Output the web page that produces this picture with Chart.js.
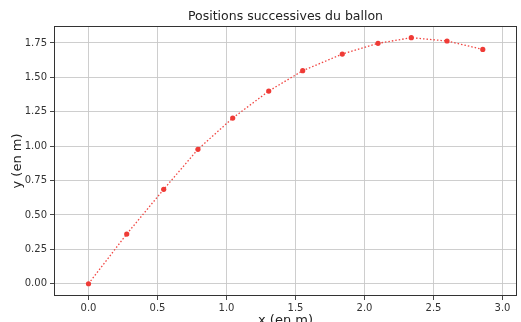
<!DOCTYPE html>
<html>
<head>
<meta charset="utf-8">
<script src="https://cdn.jsdelivr.net/npm/chart.js@4/dist/chart.umd.min.js"></script>
<style>
  html, body { margin: 0; padding: 0; background: #fff; overflow: hidden; }
  #wrap { width: 521px; height: 322px; }
</style>
</head>
<body>
<div id="wrap"><canvas id="ballChart" width="521" height="322"></canvas></div>
<script>
// positions
const xPos = [0.0, 0.277, 0.545, 0.793, 1.045, 1.306, 1.552, 1.839, 2.098, 2.339, 2.598, 2.857];
const yPos = [0.0, 0.361, 0.686, 0.977, 1.204, 1.400, 1.548, 1.669, 1.747, 1.788, 1.764, 1.703];
const xTicks = [0.0, 0.5, 1.0, 1.5, 2.0, 2.5, 3.0];
const yTicks = [0.0, 0.25, 0.5, 0.75, 1.0, 1.25, 1.5, 1.75];

const FONT = "'DejaVu Sans', sans-serif";

// frame + title + axis labels, matplotlib style
const decor = {
  id: 'decor',
  afterDraw(chart) {
    const { ctx, chartArea: a } = chart;
    ctx.save();
    ctx.strokeStyle = '#333';
    ctx.lineWidth = 1;
    ctx.strokeRect(a.left + 0.5, a.top + 0.5, a.right - a.left - 1, a.bottom - a.top - 1);

    ctx.fillStyle = '#222';
    ctx.textAlign = 'center';
    ctx.textBaseline = 'middle';
    ctx.font = '12.5px ' + FONT;
    ctx.fillText('Positions successives du ballon', (a.left + a.right) / 2, 17);

    ctx.font = '13px ' + FONT;
    ctx.fillText('x (en m)', (a.left + a.right) / 2, 320.5);

    ctx.translate(18, (a.top + a.bottom) / 2);
    ctx.rotate(-Math.PI / 2);
    ctx.fillText('y (en m)', 0, 0);
    ctx.restore();
  }
};

const ctx = document.getElementById('ballChart').getContext('2d');
new Chart(ctx, {
  type: 'scatter',
  data: {
    datasets: [{
      data: xPos.map((x, i) => ({ x: x, y: yPos[i] })),
      showLine: true,
      borderColor: 'rgba(240,50,45,0.9)',
      borderWidth: 1.3,
      borderDash: [1.5, 2],
      backgroundColor: '#ef3b36',
      pointBorderWidth: 0,
      pointRadius: 2.6
    }]
  },
  options: {
    responsive: false,
    animation: false,
    layout: { padding: { top: 26, right: 4, left: 0, bottom: 0 } },
    plugins: {
      legend: { display: false },
      tooltip: { enabled: false }
    },
    scales: {
      x: {
        type: 'linear',
        min: -0.25,
        max: 3.105,
        afterBuildTicks: s => { s.ticks = xTicks.map(v => ({ value: v })); },
        afterFit: s => { s.height = 26; },
        grid: { color: '#c8c8c8', lineWidth: 0.9, tickColor: '#333', tickLength: 4 },
        border: { display: false },
        ticks: {
          color: '#333',
          font: { family: FONT, size: 10 },
          padding: 2,
          callback: v => v.toFixed(1)
        }
      },
      y: {
        type: 'linear',
        min: -0.089,
        max: 1.873,
        afterBuildTicks: s => { s.ticks = yTicks.map(v => ({ value: v })); },
        afterFit: s => { s.width = 54; },
        grid: { color: '#c8c8c8', lineWidth: 0.9, tickColor: '#333', tickLength: 4 },
        border: { display: false },
        ticks: {
          color: '#333',
          font: { family: FONT, size: 10 },
          padding: 3,
          callback: v => v.toFixed(2)
        }
      }
    }
  },
  plugins: [decor]
});
</script>
</body>
</html>
